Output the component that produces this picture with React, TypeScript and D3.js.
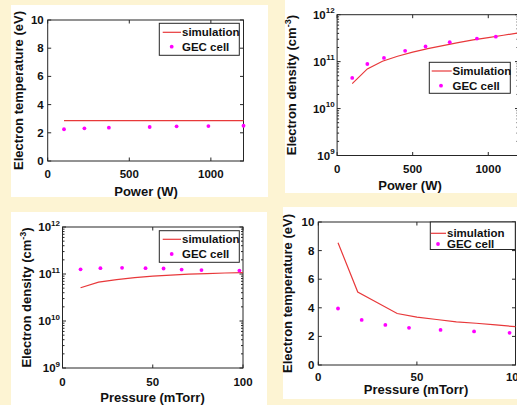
import React, { useEffect, useRef } from "react";
import * as d3 from "d3";

// tick values
const powerTicks = [0, 500, 1000];
const pressureTicks = [0, 50, 100];
const tempTicks = [0, 2, 4, 6, 8, 10];
const densityExps = [9, 10, 11, 12];

// (a) electron temperature vs power
const powerSimA = [100, 1200];
const teSimA = [2.86, 2.86];
const powerGecA = [100, 225, 375, 625, 790, 985, 1200];
const teGecA = [2.25, 2.32, 2.36, 2.41, 2.46, 2.48, 2.5];

// (b) electron density vs power
const powerSimB = [100, 200, 300, 400, 500, 600, 700, 800, 900, 1000, 1100, 1200];
const neSimB = [3.4e10, 7e10, 1.02e11, 1.3e11, 1.6e11, 1.9e11, 2.2e11, 2.55e11, 2.9e11, 3.25e11, 3.65e11, 4.1e11];
const powerGecB = [100, 200, 310, 450, 585, 745, 925, 1050];
const neGecB = [4.5e10, 8.9e10, 1.2e11, 1.7e11, 2.1e11, 2.6e11, 3.1e11, 3.4e11];

// (c) electron density vs pressure
const pressSimC = [10, 20, 30, 40, 50, 60, 70, 80, 90, 100];
const neSimC = [5.1e10, 6.7e10, 7.6e10, 8.4e10, 9.0e10, 9.5e10, 9.9e10, 1.02e11, 1.05e11, 1.07e11];
const pressGecC = [10, 21, 33, 46, 56, 66, 77, 98];
const neGecC = [1.26e11, 1.33e11, 1.35e11, 1.33e11, 1.31e11, 1.24e11, 1.21e11, 1.18e11];

// (d) electron temperature vs pressure
const pressSimD = [10, 20, 30, 40, 50, 60, 70, 80, 90, 100];
const teSimD = [8.55, 5.1, 4.35, 3.6, 3.35, 3.18, 3.02, 2.92, 2.8, 2.68];
const pressGecD = [10, 22, 34, 46, 62, 79, 97];
const teGecD = [3.95, 3.15, 2.8, 2.6, 2.45, 2.35, 2.25];

const W = 517;
const H = 405;
const BG = "#fdf4d3";
const RED = "#e8383a";
const MAG = "#ff00ff";
const INK = "#262626";
const FONT = "'Liberation Sans', Arial, Helvetica, sans-serif";

const panels = [
  {
    card: [11, 5, 257, 192],
    plot: { left: 47.7, right: 243.5, top: 20, bottom: 161 },
    xDomain: [0, 1200], xTicks: powerTicks, log: false,
    xLabel: "Power (W)", xLabelX: 146, xLabelY: 195.5, tickDy: 17, yLabelX: 23,
    simX: powerSimA, simY: teSimA, gecX: powerGecA, gecY: teGecA,
    legend: { x: 159.3, y: 23.3, w: 80, h: 32, r1: 32.3, r2: 46.7, l0: 162.7, l1: 181, dot: 171.7, tx: 182, name: "simulation" },
  },
  {
    card: [285, 0, 240, 193],
    plot: { left: 337.1, right: 518.5, top: 14.7, bottom: 155.5 },
    xDomain: [0, 1200], xTicks: powerTicks, log: true,
    xLabel: "Power (W)", xLabelX: 410, xLabelY: 190, tickDy: 17, yLabelX: 296,
    simX: powerSimB, simY: neSimB, gecX: powerGecB, gecY: neGecB,
    legend: { x: 429.3, y: 62.3, w: 81, h: 31, r1: 71, r2: 85.7, l0: 431.7, l1: 451.7, dot: 441, tx: 452.5, name: "Simulation" },
  },
  {
    card: [11, 212, 256, 200],
    plot: { left: 62.5, right: 243, top: 227, bottom: 368 },
    xDomain: [0, 100], xTicks: pressureTicks, log: true,
    xLabel: "Pressure (mTorr)", xLabelX: 152.5, xLabelY: 401.5, tickDy: 18, yLabelX: 31,
    simX: pressSimC, simY: neSimC, gecX: pressGecC, gecY: neGecC,
    legend: { x: 159.3, y: 230.7, w: 80, h: 31.6, r1: 239.3, r2: 254, l0: 162.7, l1: 181, dot: 171.7, tx: 182, name: "simulation" },
  },
  {
    card: [283, 207, 240, 192],
    plot: { left: 318.3, right: 515.5, top: 222, bottom: 365 },
    xDomain: [0, 100], xTicks: pressureTicks, log: false,
    xLabel: "Pressure (mTorr)", xLabelX: 416, xLabelY: 394, tickDy: 16, yLabelX: 292,
    simX: pressSimD, simY: teSimD, gecX: pressGecD, gecY: teGecD,
    legend: { x: 430.3, y: 222, w: 85, h: 27.5, r1: 233.3, r2: 244, l0: 430.8, l1: 446, dot: 438, tx: 447, name: "simulation" },
  },
];

function drawPanel(g, p) {
  const { left, right, top, bottom } = p.plot;
  const x = d3.scaleLinear().domain(p.xDomain).range([left, right]);
  const y = p.log
    ? d3.scaleLog().domain([1e9, 1e12]).range([bottom, top])
    : d3.scaleLinear().domain([0, 10]).range([bottom, top]);

  g.append("rect")
    .attr("x", p.card[0]).attr("y", p.card[1])
    .attr("width", p.card[2]).attr("height", p.card[3])
    .attr("fill", "#fff");

  const axes = g.append("g").attr("stroke", INK).attr("stroke-width", 1).attr("fill", "none");
  const txt = g.append("g").attr("font-family", FONT).attr("font-weight", "bold").attr("fill", "#111");

  // x ticks, bottom and top
  p.xTicks.forEach((t) => {
    const xx = x(t);
    axes.append("line").attr("x1", xx).attr("x2", xx).attr("y1", bottom).attr("y2", bottom - 3.5);
    axes.append("line").attr("x1", xx).attr("x2", xx).attr("y1", top).attr("y2", top + 3.5);
    txt.append("text").attr("x", xx).attr("y", bottom + p.tickDy)
      .attr("text-anchor", "middle").attr("font-size", 11.5).text(t);
  });

  // y ticks, left and right
  if (p.log) {
    densityExps.forEach((e) => {
      const yy = y(Math.pow(10, e));
      axes.append("line").attr("x1", left).attr("x2", left + 3.5).attr("y1", yy).attr("y2", yy);
      axes.append("line").attr("x1", right).attr("x2", right - 3.5).attr("y1", yy).attr("y2", yy);
      const t = txt.append("text").attr("x", left - 2.5).attr("y", yy + 4)
        .attr("text-anchor", "end").attr("font-size", 11.5);
      t.append("tspan").text("10");
      t.append("tspan").attr("font-size", 8).attr("dy", -5.5).text(e);
      if (e < 12) {
        for (let m = 2; m < 10; m++) {
          const ym = y(m * Math.pow(10, e));
          axes.append("line").attr("x1", left).attr("x2", left + 2).attr("y1", ym).attr("y2", ym);
          axes.append("line").attr("x1", right).attr("x2", right - 2).attr("y1", ym).attr("y2", ym);
        }
      }
    });
  } else {
    tempTicks.forEach((t) => {
      const yy = y(t);
      axes.append("line").attr("x1", left).attr("x2", left + 3.5).attr("y1", yy).attr("y2", yy);
      axes.append("line").attr("x1", right).attr("x2", right - 3.5).attr("y1", yy).attr("y2", yy);
      txt.append("text").attr("x", left - 4).attr("y", yy + 4)
        .attr("text-anchor", "end").attr("font-size", 11.5).text(t);
    });
  }

  // axis labels
  txt.append("text").attr("x", p.xLabelX).attr("y", p.xLabelY)
    .attr("text-anchor", "middle").attr("font-size", 13).text(p.xLabel);
  const yl = txt.append("text")
    .attr("transform", `translate(${p.yLabelX},${(top + bottom) / 2}) rotate(-90)`)
    .attr("text-anchor", "middle").attr("font-size", 13);
  if (p.log) {
    yl.append("tspan").text("Electron density (cm");
    yl.append("tspan").attr("font-size", 9).attr("dy", -5).text("-3");
    yl.append("tspan").attr("dy", 5).text(")");
  } else {
    yl.text("Electron temperature (eV)");
  }

  // simulation line
  const line = d3.line().x((d) => x(d[0])).y((d) => y(d[1]));
  g.append("path").datum(d3.zip(p.simX, p.simY))
    .attr("d", line).attr("fill", "none").attr("stroke", RED).attr("stroke-width", 1.2);

  // GEC cell points
  g.append("g").selectAll("circle").data(d3.zip(p.gecX, p.gecY)).join("circle")
    .attr("cx", (d) => x(d[0])).attr("cy", (d) => y(d[1])).attr("r", 1.9).attr("fill", MAG);

  // frame
  axes.append("rect").attr("x", left).attr("y", top)
    .attr("width", right - left).attr("height", bottom - top);

  // legend
  const L = p.legend;
  g.append("rect").attr("x", L.x).attr("y", L.y).attr("width", L.w).attr("height", L.h)
    .attr("fill", "#fff").attr("stroke", INK).attr("stroke-width", 1);
  g.append("line").attr("x1", L.l0).attr("x2", L.l1).attr("y1", L.r1).attr("y2", L.r1)
    .attr("stroke", RED).attr("stroke-width", 1.2);
  g.append("circle").attr("cx", L.dot).attr("cy", L.r2).attr("r", 1.9).attr("fill", MAG);
  txt.append("text").attr("x", L.tx).attr("y", L.r1 + 4).attr("font-size", 11.5).text(L.name);
  txt.append("text").attr("x", L.tx).attr("y", L.r2 + 4).attr("font-size", 11.5).text("GEC cell");
  txt.raise();
}

export default function App() {
  const ref = useRef(null);
  useEffect(() => {
    const svg = d3.select(ref.current);
    svg.selectAll("*").remove();
    svg.append("rect").attr("width", W).attr("height", H).attr("fill", BG);
    panels.forEach((p) => drawPanel(svg.append("g"), p));
  }, []);
  return (
    <svg
      ref={ref}
      width={W}
      height={H}
      style={{ position: "absolute", left: 0, top: 0, display: "block" }}
    ></svg>
  );
}
